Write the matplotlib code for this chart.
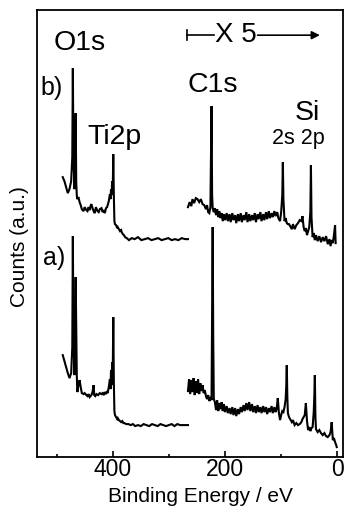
import matplotlib

matplotlib.use("Agg")
import matplotlib.pyplot as plt

plt.rcParams["font.family"] = ["Liberation Sans", "DejaVu Sans"]

# spectrum b) -- left part (full scale)
E_b1 = [489, 486, 483, 480, 477, 474, 472, 471, 470, 468,
        467, 466, 465, 464, 463, 461, 459, 457, 455, 452,
        450, 447, 445, 443, 441, 439, 438, 436, 434, 432,
        430, 427, 425, 423, 420, 418, 416, 414, 412, 410,
        409, 407, 405, 404, 403, 402, 401, 400, 399, 398,
        397, 396, 394, 392, 391, 389, 387, 385, 384, 382,
        380, 378, 375, 371, 366, 361, 355, 349, 343, 337,
        331, 325, 319, 313, 307, 301, 295, 289, 283, 277,
        271, 266]
h_b1 = [280, 276, 270, 264, 268, 276, 300, 389, 300, 268,
        285, 344, 275, 262, 258, 260, 255, 252, 248, 246,
        250, 247, 246, 250, 247, 252, 253, 249, 246, 244,
        250, 246, 245, 248, 249, 245, 247, 244, 249, 250,
        252, 256, 263, 258, 268, 262, 276, 265, 303, 262,
        236, 233, 232, 229, 230, 228, 226, 227, 225, 223,
        222, 220, 219, 217, 219, 218, 220, 217, 218, 219,
        217, 218, 219, 217, 218, 219, 217, 218, 217, 219,
        218, 218]

# spectrum b) -- right part (x5)
E_b2 = [266, 263, 260, 258, 255, 252, 249, 246, 243, 240,
        237, 234, 232, 230, 228, 226, 224, 223, 222, 220,
        218, 216, 214, 212, 210, 208, 206, 204, 202, 200,
        197, 195, 192, 190, 187, 185, 182, 180, 177, 175,
        172, 170, 167, 165, 162, 160, 157, 155, 152, 150,
        147, 145, 142, 140, 137, 135, 132, 130, 127, 125,
        122, 120, 117, 115, 112, 110, 107, 105, 102, 100,
        98, 97, 96, 94, 92, 90, 88, 86, 84, 81,
        79, 76, 73, 70, 67, 64, 62, 60, 58, 56,
        54, 52, 50, 48, 47, 46, 44, 42, 40, 38,
        35, 32, 29, 26, 23, 20, 17, 14, 12, 10,
        8, 6, 4, 3]
h_b2 = [250, 255, 251, 258, 254, 259, 258, 255, 258, 253,
        252, 248, 252, 245, 244, 250, 351, 262, 249, 245,
        249, 242, 248, 240, 246, 239, 244, 236, 243, 237,
        244, 236, 243, 235, 244, 237, 242, 234, 243, 236,
        244, 235, 242, 237, 245, 235, 243, 236, 242, 237,
        244, 235, 243, 238, 245, 236, 243, 237, 245, 238,
        246, 239, 244, 240, 246, 241, 245, 239, 236, 245,
        262, 295, 258, 236, 239, 234, 233, 233, 231, 228,
        233, 228, 232, 234, 237, 236, 241, 230, 226, 229,
        222, 226, 230, 245, 292, 240, 220, 224, 217, 222,
        216, 221, 215, 220, 216, 221, 213, 218, 211, 217,
        214, 222, 232, 214]

# spectrum a) -- left part
E_a1 = [489, 486, 483, 480, 477, 474, 472, 471, 470, 468,
        467, 466, 464, 463, 461, 459, 457, 455, 452, 450,
        447, 445, 443, 441, 438, 436, 434, 433, 431, 429,
        426, 423, 420, 418, 416, 414, 412, 410, 409, 407,
        405, 404, 403, 402, 401, 400, 399, 398, 397, 396,
        394, 392, 391, 389, 387, 385, 383, 381, 379, 376,
        372, 368, 364, 360, 355, 350, 345, 340, 335, 330,
        325, 320, 315, 310, 305, 300, 295, 290, 285, 280,
        275, 270, 266]
h_a1 = [102, 96, 90, 84, 79, 84, 110, 221, 120, 82,
        120, 180, 82, 65, 72, 77, 70, 64, 63, 64,
        62, 61, 63, 60, 62, 65, 72, 62, 61, 63,
        62, 64, 63, 64, 62, 65, 63, 66, 64, 70,
        78, 68, 87, 72, 95, 80, 140, 75, 46, 42,
        40, 38, 39, 37, 36, 35, 36, 34, 34, 33,
        33, 32, 33, 31, 32, 31, 33, 32, 31, 33,
        32, 31, 33, 32, 31, 32, 33, 31, 33, 32,
        32, 32, 32]

# spectrum a) -- right part (x5)
E_a2 = [266, 264, 262, 260, 258, 256, 254, 252, 250, 248,
        246, 244, 242, 240, 238, 236, 234, 232, 230, 228,
        226, 224, 222, 221, 220, 218, 216, 214, 212, 210,
        208, 206, 204, 202, 200, 197, 195, 192, 190, 187,
        185, 182, 180, 177, 175, 172, 170, 167, 165, 162,
        160, 157, 155, 152, 150, 147, 145, 142, 140, 137,
        135, 132, 130, 127, 125, 122, 120, 117, 115, 112,
        110, 108, 106, 104, 102, 100, 98, 96, 94, 92,
        91, 90, 89, 88, 86, 84, 81, 79, 76, 73,
        70, 67, 64, 62, 60, 58, 56, 54, 52, 50,
        48, 46, 44, 42, 41, 40, 39, 38, 35, 32,
        29, 26, 23, 20, 17, 14, 12, 10, 8, 6,
        4, 2, 1]
h_a2 = [66, 78, 63, 77, 65, 79, 62, 76, 64, 78,
        63, 74, 66, 72, 64, 67, 61, 58, 62, 56,
        60, 57, 230, 120, 58, 55, 47, 57, 46, 54,
        48, 55, 46, 53, 45, 51, 44, 49, 43, 50,
        42, 49, 41, 48, 43, 50, 45, 52, 46, 54,
        47, 55, 46, 53, 45, 51, 44, 52, 45, 50,
        44, 51, 45, 50, 43, 49, 45, 51, 44, 50,
        45, 48, 59, 44, 37, 42, 46, 45, 50, 58,
        70, 92, 60, 44, 40, 38, 35, 37, 32, 34,
        32, 33, 35, 38, 40, 42, 54, 36, 27, 30,
        26, 29, 30, 45, 60, 82, 40, 28, 25, 27,
        24, 22, 24, 21, 20, 22, 25, 35, 17, 19,
        15, 12, 10]

x_major = [400, 200, 0]
x_minor = [500, 300, 100]

fig = plt.figure(figsize=(3.45, 5.09), dpi=100)
ax = fig.add_axes([0.107, 0.102, 0.887, 0.878])

for E, h in [(E_b1, h_b1), (E_b2, h_b2), (E_a1, h_a1), (E_a2, h_a2)]:
    ax.plot(E, h, color="black", lw=1.5, solid_joinstyle="miter")

ax.set_xlim(535, -10)
ax.set_ylim(0, 447)
ax.set_yticks([])
ax.set_xticks(x_major)
ax.set_xticks(x_minor, minor=True)
ax.tick_params(axis="x", which="major", direction="in", length=4, width=1.2,
               labelsize=16.5, pad=1)
ax.tick_params(axis="x", which="minor", direction="in", length=2.5, width=1.2)
for s in ax.spines.values():
    s.set_linewidth(1.3)

# peak labels
ax.text(459, 414, "O1s", fontsize=20.5, ha="center", va="center")
ax.text(509, 369, "b)", fontsize=18, ha="center", va="center")
ax.text(397, 320, "Ti2p", fontsize=20.5, ha="center", va="center")
ax.text(222, 372, "C1s", fontsize=20.5, ha="center", va="center")
ax.text(53, 344, "Si", fontsize=20.5, ha="center", va="center")
ax.text(69, 319, "2s 2p", fontsize=15.5, ha="center", va="center")
ax.text(505, 199, "a)", fontsize=18, ha="center", va="center")

# x5 marker
ax.plot([268, 268], [417, 427], color="black", lw=1.2)
ax.plot([268, 220], [422, 422], color="black", lw=1.2)
ax.text(181, 422, "X 5", fontsize=20, ha="center", va="center")
ax.annotate("", xy=(31, 422), xytext=(142, 422),
            arrowprops=dict(arrowstyle="-|>", color="black", lw=1.2,
                            mutation_scale=12, shrinkA=0, shrinkB=0))

fig.text(20 / 345, 1 - 247 / 509, "Counts (a.u.)", rotation=90,
         fontsize=15, ha="center", va="center")
fig.text(200 / 345, 1 - 497 / 509, "Binding Energy / eV",
         fontsize=15, ha="center", va="center")

fig.savefig("out.png", dpi=100)
